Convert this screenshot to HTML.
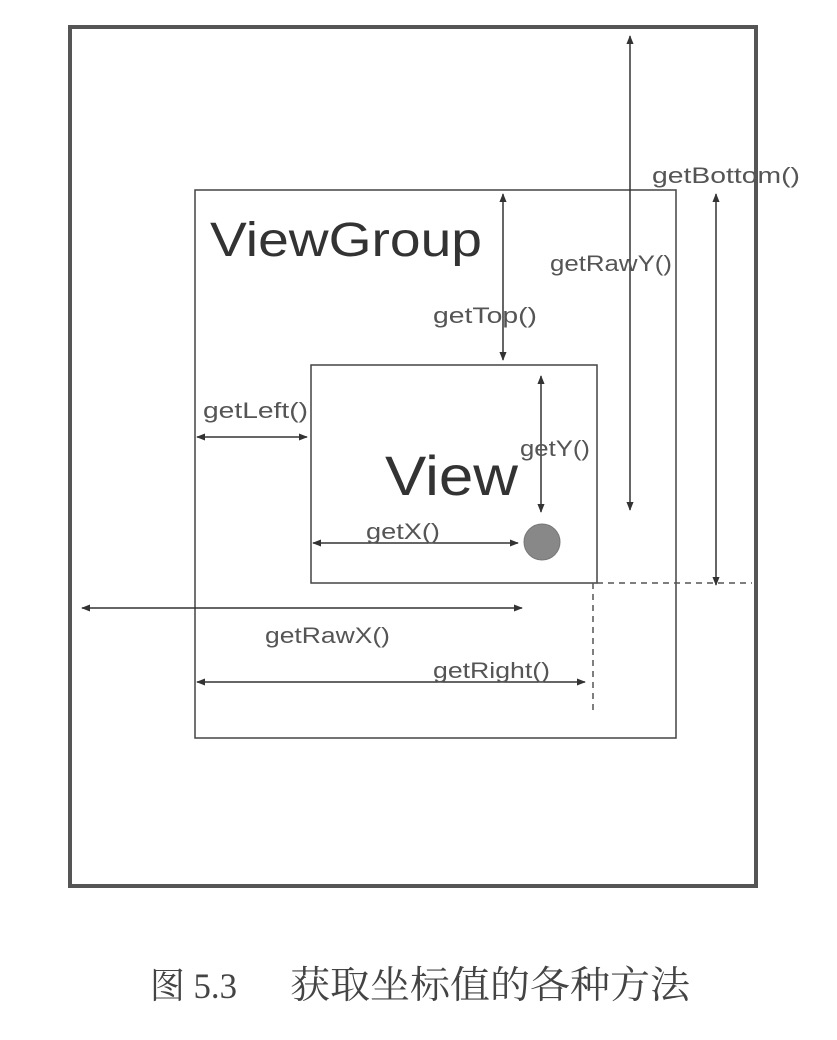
<!DOCTYPE html>
<html><head><meta charset="utf-8"><style>
html,body{margin:0;padding:0;background:#fff;}
svg{display:block;}
</style></head><body>
<svg width="837" height="1040" viewBox="0 0 837 1040" xmlns="http://www.w3.org/2000/svg">
<defs>
<marker id="a" viewBox="0 0 10 10" refX="9" refY="5" markerWidth="9" markerHeight="9" orient="auto-start-reverse" markerUnits="userSpaceOnUse">
<path d="M0,1 L10,5 L0,9 z" fill="#333"/>
</marker>
</defs>
<rect x="70" y="27" width="686" height="859" fill="none" stroke="#555" stroke-width="4"/>
<rect x="195" y="190" width="481" height="548" fill="none" stroke="#444" stroke-width="1.5"/>
<rect x="311" y="365" width="286" height="218" fill="none" stroke="#444" stroke-width="1.5"/>
<circle cx="542" cy="542" r="18" fill="#888" stroke="#777"/>
<g stroke="#333" stroke-width="1.5" fill="none">
<line x1="630" y1="36" x2="630" y2="510" marker-start="url(#a)" marker-end="url(#a)"/>
<line x1="716" y1="194" x2="716" y2="585" marker-start="url(#a)" marker-end="url(#a)"/>
<line x1="503" y1="194" x2="503" y2="360" marker-start="url(#a)" marker-end="url(#a)"/>
<line x1="541" y1="376" x2="541" y2="512" marker-start="url(#a)" marker-end="url(#a)"/>
<line x1="197" y1="437" x2="307" y2="437" marker-start="url(#a)" marker-end="url(#a)"/>
<line x1="313" y1="543" x2="518" y2="543" marker-start="url(#a)" marker-end="url(#a)"/>
<line x1="82" y1="608" x2="522" y2="608" marker-start="url(#a)" marker-end="url(#a)"/>
<line x1="197" y1="682" x2="585" y2="682" marker-start="url(#a)" marker-end="url(#a)"/>
<line x1="597" y1="583" x2="752" y2="583" stroke-dasharray="6,5" stroke="#555"/>
<line x1="593" y1="583" x2="593" y2="712" stroke-dasharray="6,5" stroke="#555"/>
</g>
<g font-family="Liberation Sans, sans-serif" fill="#555" font-size="22" lengthAdjust="spacingAndGlyphs">
<text x="652" y="183" textLength="148" lengthAdjust="spacingAndGlyphs">getBottom()</text>
<text x="550" y="271" textLength="122" lengthAdjust="spacingAndGlyphs">getRawY()</text>
<text x="433" y="323" textLength="104" lengthAdjust="spacingAndGlyphs">getTop()</text>
<text x="203" y="418" textLength="105" lengthAdjust="spacingAndGlyphs">getLeft()</text>
<text x="520" y="456" textLength="70" lengthAdjust="spacingAndGlyphs">getY()</text>
<text x="366" y="539" textLength="74" lengthAdjust="spacingAndGlyphs">getX()</text>
<text x="265" y="643" textLength="125" lengthAdjust="spacingAndGlyphs">getRawX()</text>
<text x="433" y="678" textLength="117" lengthAdjust="spacingAndGlyphs">getRight()</text>
</g>
<text x="210" y="256" font-family="Liberation Sans, sans-serif" font-size="48" fill="#333" textLength="272" lengthAdjust="spacingAndGlyphs">ViewGroup</text>
<text x="385" y="495" font-family="Liberation Sans, sans-serif" font-size="56" fill="#333" textLength="133" lengthAdjust="spacingAndGlyphs">View</text>
<text x="150" y="998" font-family="Liberation Serif, 'Noto Serif CJK SC', serif" font-size="36" fill="#444" textLength="87" lengthAdjust="spacingAndGlyphs">图 5.3</text>
<text x="290" y="998" font-family="Liberation Serif, 'Noto Serif CJK SC', serif" font-size="38" fill="#444" textLength="400" lengthAdjust="spacingAndGlyphs">获取坐标值的各种方法</text>
</svg>
</body></html>
